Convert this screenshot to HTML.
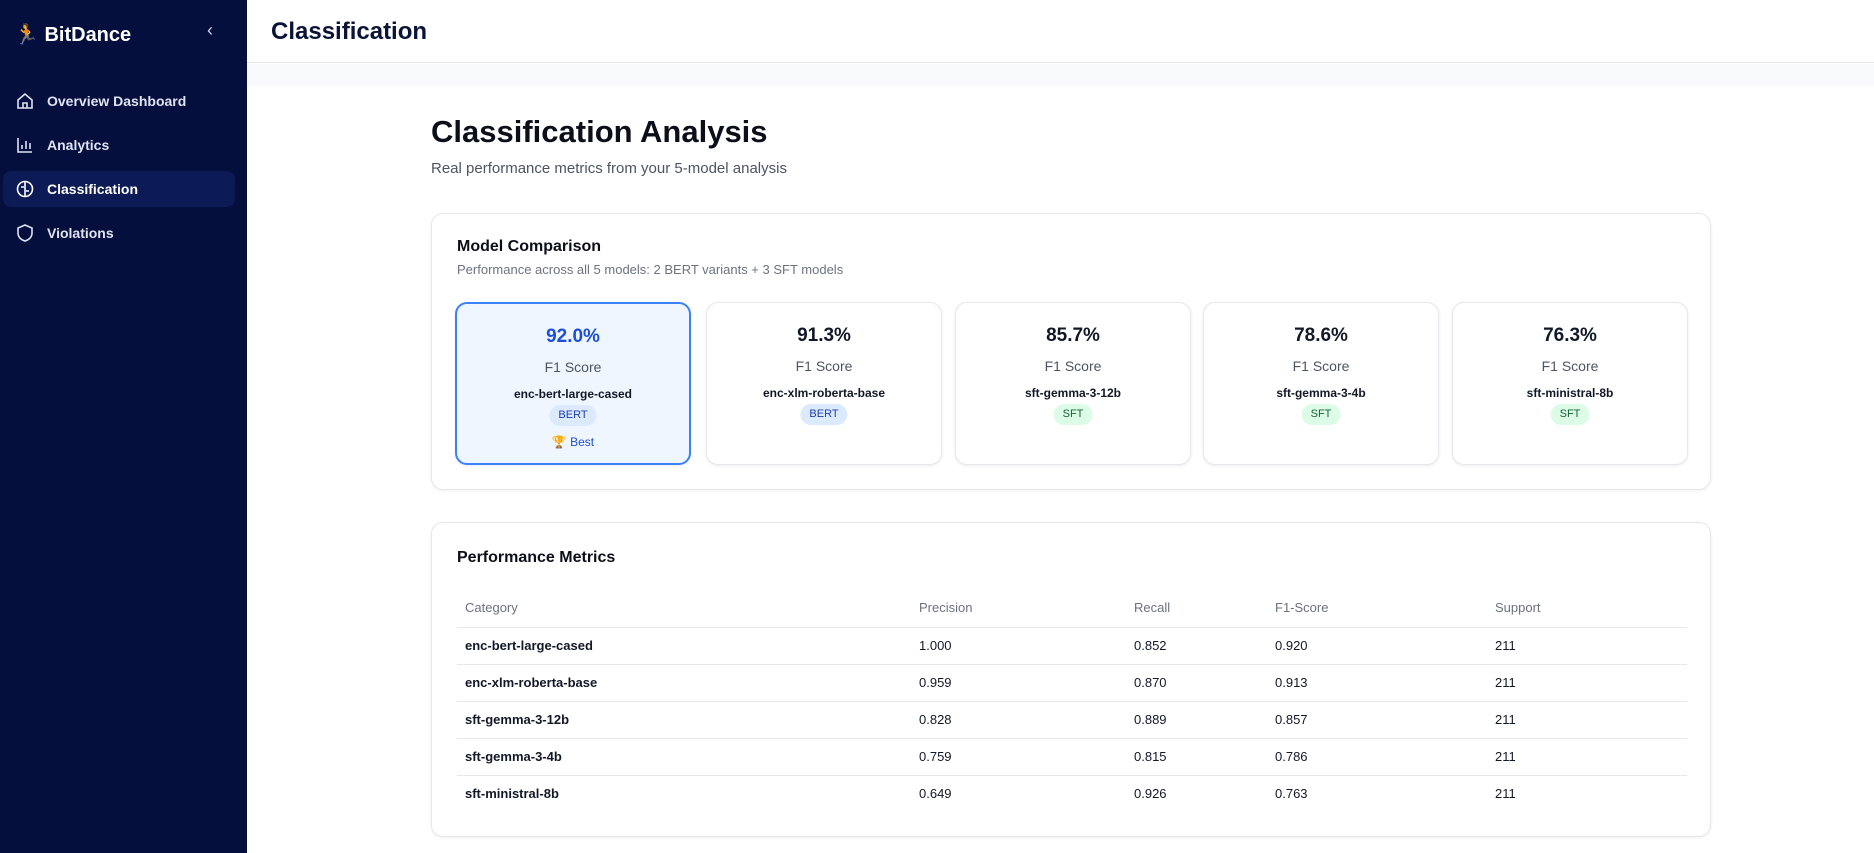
<!DOCTYPE html>
<html><head><meta charset="utf-8"><style>
*{box-sizing:border-box;margin:0;padding:0}
body{width:1874px;height:853px;overflow:hidden;font-family:"Liberation Sans",sans-serif;background:#fff;position:relative}
.side{position:absolute;left:0;top:0;width:247px;height:853px;background:#050f3d;color:#e5e8f5}
.logo{position:absolute;left:14px;top:22px;font-size:20px;font-weight:bold;color:#fff}
.collapse{position:absolute;left:207px;top:20px;color:#cfd3e6;font-size:18px}
.nav{position:absolute;left:3px;width:232px;height:36px;border-radius:8px;font-size:14px;font-weight:bold;line-height:36px;padding-left:44px;color:#dfe3f2}
.nav.active{background:#0c1a55;color:#fff}
.nav svg{position:absolute;left:12px;top:8px}
.top{position:absolute;left:247px;top:0;right:0;height:63px;border-bottom:1px solid #e5e7eb;background:#fff}
.top h1{position:absolute;left:24px;top:18px;font-size:24px;color:#0b1437}
.strip{position:absolute;left:247px;top:64px;right:0;height:22px;background:#f8fafc}
h2{position:absolute;left:431px;top:114px;font-size:31px;color:#0b0f19}
.sub{position:absolute;left:431px;top:160px;font-size:15px;color:#4b5563}
.card{position:absolute;left:431px;width:1280px;border:1px solid #e5e7eb;border-radius:12px;background:#fff;box-shadow:0 1px 3px rgba(0,0,0,.06)}
.ct{position:absolute;left:25px;font-size:16px;font-weight:bold;color:#0b0f19}
.cs{position:absolute;left:25px;top:48px;font-size:13px;color:#6b7280}
.m{position:absolute;top:302px;width:236px;height:163px;border:1px solid #e5e7eb;border-radius:12px;background:#fff;text-align:center;box-shadow:0 1px 3px rgba(0,0,0,.08)}
.m.best{border:2px solid #3b82f6;background:#eff6ff}
.pct{position:absolute;left:0;right:0;top:22px;font-size:19px;font-weight:bold;color:#111827}
.best .pct{color:#1d4ed8}
.f1{position:absolute;left:0;right:0;top:55px;font-size:14px;color:#4b5563}
.nm{position:absolute;left:0;right:0;top:83px;font-size:12px;font-weight:bold;color:#111827}
.bd{position:absolute;left:50%;transform:translateX(-50%);top:101px;height:21px;line-height:21px;padding:0 9px;border-radius:11px;font-size:11px}
.bert{background:#dbeafe;color:#1e40af}.sft{background:#dcfce7;color:#166534}
.bst{position:absolute;left:0;right:0;top:131px;font-size:12px;color:#1d4ed8}
table{position:absolute;left:25px;top:66px;width:1230px;border-collapse:collapse;font-size:13px}
th{text-align:left;font-weight:normal;color:#6b7280;height:38px;padding-left:8px;border-bottom:1px solid #e5e7eb}
td{height:37px;padding-left:8px;border-bottom:1px solid #e5e7eb;color:#111827}
td.c{font-weight:bold}
tr:last-child td{border-bottom:none}
</style></head><body>
<div class="side">
<div class="logo">🏃 BitDance</div>
<div class="collapse">‹</div>
<div class="nav" style="top:83px"><svg width="20" height="20" viewBox="0 0 20 20" fill="none" stroke="#dfe3f2" stroke-width="1.6"><path d="M3 9l7-6 7 6v8H3z M8 17v-5h4v5"/></svg>Overview Dashboard</div>
<div class="nav" style="top:127px"><svg width="20" height="20" viewBox="0 0 20 20" fill="none" stroke="#dfe3f2" stroke-width="1.6"><path d="M3 3v14h14M7 14v-4M11 14V6M15 14v-6"/></svg>Analytics</div>
<div class="nav active" style="top:171px"><svg width="20" height="20" viewBox="0 0 20 20" fill="none" stroke="#fff" stroke-width="1.6"><circle cx="10" cy="10" r="7.5"/><path d="M10 3v14M6 8h3M11 12h3"/></svg>Classification</div>
<div class="nav" style="top:215px"><svg width="20" height="20" viewBox="0 0 20 20" fill="none" stroke="#dfe3f2" stroke-width="1.6"><path d="M10 2l7 3v5c0 4-3 7-7 8-4-1-7-4-7-8V5z"/></svg>Violations</div>
</div>
<div class="top"><h1>Classification</h1></div>
<div class="strip"></div>
<h2>Classification Analysis</h2>
<div class="sub">Real performance metrics from your 5-model analysis</div>
<div class="card" style="top:213px;height:277px">
<div class="ct" style="top:24px">Model Comparison</div>
<div class="cs">Performance across all 5 models: 2 BERT variants + 3 SFT models</div>
</div>
<div id="models"></div>
<div class="card" style="top:522px;height:315px">
<div class="ct" style="top:26px">Performance Metrics</div>
<table><thead><tr><th style="width:454px">Category</th><th style="width:215px">Precision</th><th style="width:141px">Recall</th><th style="width:220px">F1-Score</th><th>Support</th></tr></thead><tbody id="tb"></tbody></table>
</div>
<script>
const models=["enc-bert-large-cased","enc-xlm-roberta-base","sft-gemma-3-12b","sft-gemma-3-4b","sft-ministral-8b"];
const types=["BERT","BERT","SFT","SFT","SFT"];
const precision=[1.000,0.959,0.828,0.759,0.649];
const recall=[0.852,0.870,0.889,0.815,0.926];
const f1=[0.920,0.913,0.857,0.786,0.763];
const support=[211,211,211,211,211];
const lefts=[455,706,955,1203,1452];
const wrap=document.getElementById('models');
const bestIdx=f1.indexOf(Math.max(...f1));
models.forEach((m,i)=>{
 const d=document.createElement('div');
 d.className='m'+(i===bestIdx?' best':'');
 d.style.left=lefts[i]+'px';
 
 
 d.innerHTML='<div class="pct">'+(f1[i]*100).toFixed(1)+'%</div><div class="f1">F1 Score</div><div class="nm">'+m+'</div><div class="bd '+types[i].toLowerCase()+'">'+types[i]+'</div>'+(i===bestIdx?'<div class="bst">🏆 Best</div>':'');
 wrap.appendChild(d);
});
const tb=document.getElementById('tb');
models.forEach((m,i)=>{
 const r=document.createElement('tr');
 
 
 r.innerHTML='<td class="c">'+m+'</td><td>'+precision[i].toFixed(3)+'</td><td>'+recall[i].toFixed(3)+'</td><td>'+f1[i].toFixed(3)+'</td><td>'+support[i]+'</td>';
 tb.appendChild(r);
});
</script>
</body></html>
